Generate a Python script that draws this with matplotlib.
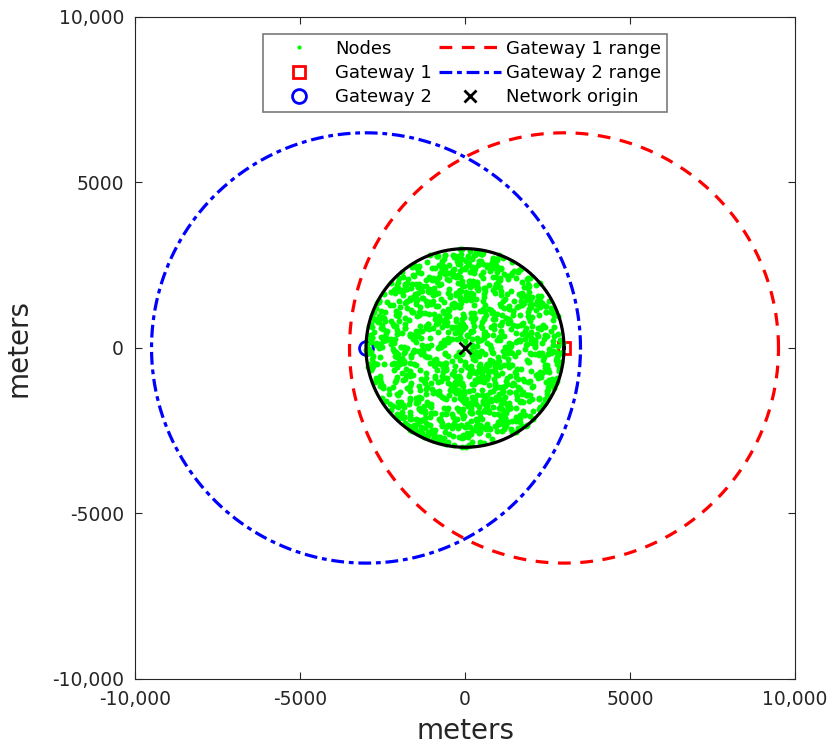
import numpy as np
import matplotlib
matplotlib.use("Agg")
import matplotlib.pyplot as plt
from matplotlib.ticker import FuncFormatter

# deployment parameters (meters)
area_radius = 3000
n_nodes = 1300
gw1_pos = (3000, 0)
gw2_pos = (-3000, 0)
gw_range = 6500
origin = (0, 0)
ticks = [-10000, -5000, 0, 5000, 10000]

# uniform node deployment inside the disc
rng = np.random.default_rng(7)
r = area_radius * np.sqrt(rng.uniform(0, 1, n_nodes))
th = rng.uniform(0, 2 * np.pi, n_nodes)
nodes_x = r * np.cos(th)
nodes_y = r * np.sin(th)

t = np.linspace(0, 2 * np.pi, 400)

fig = plt.figure(figsize=(8.35, 7.5), dpi=100)
ax = fig.add_axes([0.1617, 0.0947, 0.7904, 0.8827])

ax.plot(*gw1_pos, 's', markerfacecolor='none', markeredgecolor='r', markersize=9,
        markeredgewidth=2, label='Gateway 1', zorder=2)
ax.plot(*gw2_pos, 'o', markerfacecolor='none', markeredgecolor='b', markersize=10,
        markeredgewidth=2, label='Gateway 2', zorder=2)
ax.plot(nodes_x, nodes_y, 'o', color=(0, 1, 0), markersize=4.3, markeredgewidth=0,
        label='Nodes', zorder=3)
ax.plot(area_radius * np.cos(t), area_radius * np.sin(t), '-', color='k', linewidth=2.3, zorder=4)
ax.plot(gw1_pos[0] + gw_range * np.cos(t), gw1_pos[1] + gw_range * np.sin(t),
        '--', color='r', linewidth=2.3, dashes=(4, 3), label='Gateway 1 range')
ax.plot(gw2_pos[0] + gw_range * np.cos(t), gw2_pos[1] + gw_range * np.sin(t),
        '-.', color='b', linewidth=2.3, dashes=(4, 1.5, 1.5, 1.5), label='Gateway 2 range')
ax.plot(*origin, 'x', color='k', markersize=9, markeredgewidth=2, label='Network origin', zorder=5)

ax.set_xlim(-10000, 10000)
ax.set_ylim(-10000, 10000)
ax.set_xticks(ticks)
ax.set_yticks(ticks)

def fmt(v, pos):
    return f'{int(v):,}' if abs(v) >= 10000 else f'{int(v)}'

ax.xaxis.set_major_formatter(FuncFormatter(fmt))
ax.yaxis.set_major_formatter(FuncFormatter(fmt))
ax.tick_params(direction='in', top=True, right=True, labelsize=13.5,
               labelcolor='#262626', color='#262626', length=5)
ax.tick_params(axis='x', pad=8)
ax.tick_params(axis='y', pad=8)
for s in ax.spines.values():
    s.set_color('#262626')
ax.set_xlabel('meters', fontsize=20, color='#262626', labelpad=6)
ax.set_ylabel('meters', fontsize=20, color='#262626', labelpad=14)

handles, labels = ax.get_legend_handles_labels()
order = ['Nodes', 'Gateway 1', 'Gateway 2', 'Gateway 1 range', 'Gateway 2 range', 'Network origin']
hl = dict(zip(labels, handles))
leg = ax.legend([hl[k] for k in order], order, ncol=2, loc='upper center',
                bbox_to_anchor=(0.5, 0.9875), fontsize=13, frameon=True, fancybox=False,
                edgecolor='#595959', handlelength=3.4, columnspacing=0.4,
                handletextpad=0.3, labelspacing=0.35, borderpad=0.3, markerscale=1.0)
leg.get_frame().set_linewidth(1.2)
leg.legend_handles[0].set_markersize(3)

fig.savefig('out.png', dpi=100)
